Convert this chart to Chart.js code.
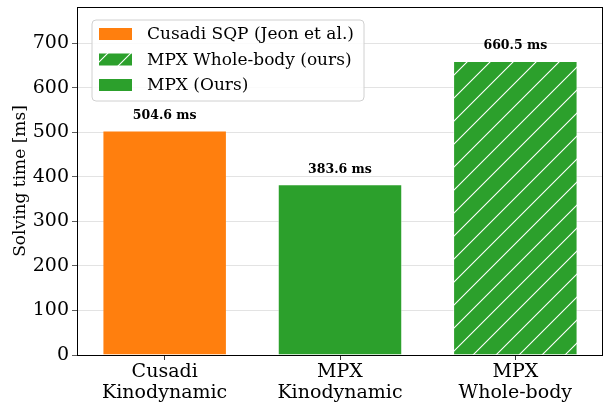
<!DOCTYPE html>
<html>
<head>
<meta charset="utf-8">
<script src="https://cdn.jsdelivr.net/npm/chart.js@4.4.1/dist/chart.umd.min.js"></script>
<style>
  html, body { margin: 0; padding: 0; background: #fff; }
  #wrap { width: 607px; height: 405px; }
</style>
</head>
<body>
<div id="wrap"><canvas id="c" width="607" height="405"></canvas></div>
<script>
// Solver timing comparison
const categories = [["Cusadi", "Kinodynamic"], ["MPX", "Kinodynamic"], ["MPX", "Whole-body"]];
const solveTimes = [504.6, 383.6, 660.5];
const valueUnit = " ms";
const yTicks = [0, 100, 200, 300, 400, 500, 600, 700];
const legendLabels = ["Cusadi SQP (Jeon et al.)", "MPX Whole-body (ours)", "MPX (Ours)"];

const ORANGE = "#ff7f0e";
const GREEN = "#2ca02c";
const SERIF = "'DejaVu Serif', serif";

// Diagonal "/" hatch on green
function makeHatch(size) {
  const cv = document.createElement("canvas");
  cv.width = size; cv.height = size;
  const g = cv.getContext("2d");
  g.fillStyle = GREEN;
  g.fillRect(0, 0, size, size);
  g.strokeStyle = "#ffffff";
  g.lineWidth = 1.1;
  g.beginPath();
  g.moveTo(-1, size + 1); g.lineTo(size + 1, -1);
  g.moveTo(-size / 2 - 1, size / 2 + 1); g.lineTo(size / 2 + 1, -size / 2 - 1);
  g.moveTo(size / 2 - 1, size * 1.5 + 1); g.lineTo(size * 1.5 + 1, size / 2 - 1);
  g.stroke();
  return g.createPattern(cv, "repeat");
}
const ctx0 = document.getElementById("c").getContext("2d");
const hatch = makeHatch(23);

const barFills = [ORANGE, GREEN, hatch];
const barEdges = ["rgba(0,0,0,0)", "rgba(255,255,255,0.5)", "rgba(255,255,255,0.6)"];
const legendFills = [ORANGE, hatch, GREEN];

const valueLabels = {
  id: "valueLabels",
  afterDatasetsDraw(chart) {
    const ctx = chart.ctx;
    const meta = chart.getDatasetMeta(0);
    ctx.save();
    ctx.font = "bold 12.5px " + SERIF;
    ctx.fillStyle = "#000";
    ctx.textAlign = "center";
    ctx.textBaseline = "middle";
    meta.data.forEach((bar, i) => {
      ctx.fillText(solveTimes[i].toFixed(1) + valueUnit, bar.x, bar.y - 15);
    });
    ctx.restore();
  }
};

const frame = {
  id: "frame",
  afterDatasetsDraw(chart) {
    const a = chart.chartArea;
    const ctx = chart.ctx;
    ctx.save();
    ctx.strokeStyle = "#000";
    ctx.lineWidth = 1;
    ctx.strokeRect(Math.round(a.left) + 0.5, Math.round(a.top) + 0.5,
                   Math.round(a.right - a.left) - 1, Math.round(a.bottom - a.top));
    ctx.restore();
  }
};

const boxLegend = {
  id: "boxLegend",
  afterDraw(chart) {
    const ctx = chart.ctx;
    const x = 92, y = 20, w = 272, h = 81, r = 4;
    ctx.save();
    ctx.beginPath();
    ctx.moveTo(x + r, y);
    ctx.arcTo(x + w, y, x + w, y + h, r);
    ctx.arcTo(x + w, y + h, x, y + h, r);
    ctx.arcTo(x, y + h, x, y, r);
    ctx.arcTo(x, y, x + w, y, r);
    ctx.closePath();
    ctx.fillStyle = "rgba(255,255,255,0.85)";
    ctx.fill();
    ctx.strokeStyle = "#d0d0d0";
    ctx.lineWidth = 1;
    ctx.stroke();
    ctx.font = "17px " + SERIF;
    ctx.textBaseline = "middle";
    ctx.textAlign = "left";
    legendLabels.forEach((lbl, i) => {
      const cy = 34 + i * 25.5;
      ctx.fillStyle = legendFills[i];
      ctx.fillRect(99, cy - 6, 33, 12);
      ctx.fillStyle = "#000";
      ctx.fillText(lbl, 147, cy + 1);
    });
    ctx.restore();
  }
};

new Chart(ctx0, {
  type: "bar",
  data: {
    labels: categories,
    datasets: [{
      data: solveTimes,
      backgroundColor: barFills,
      borderColor: barEdges,
      borderWidth: { left: 1, right: 1, top: 1, bottom: 0 },
      categoryPercentage: 0.71,
      barPercentage: 1.0
    }]
  },
  options: {
    responsive: false,
    animation: false,
    layout: { padding: { top: 7, right: 4, left: 0, bottom: 0 } },
    plugins: { legend: { display: false }, tooltip: { enabled: false } },
    scales: {
      x: {
        border: { display: false },
        grid: { display: true, offset: false, drawOnChartArea: false, drawTicks: true, tickLength: 5, tickColor: "#333", tickWidth: 1 },
        ticks: { color: "#000", font: { family: SERIF, size: 19, lineHeight: 1.1 }, padding: 2, maxRotation: 0 },
        afterFit(s) { s.height = 50; }
      },
      y: {
        min: 0,
        max: 782,
        border: { display: false },
        grid: { color: "#dcdcdc", lineWidth: 0.8, borderDash: [1, 2], tickBorderDash: [], tickColor: "#333", tickLength: 5, drawTicks: true },
        ticks: { stepSize: 100, color: "#000", font: { family: SERIF, size: 19 }, padding: 3 },
        afterBuildTicks(s) { s.ticks = yTicks.map(v => ({ value: v })); },
        title: { display: true, text: "Solving time [ms]", color: "#000", font: { family: SERIF, size: 17 }, padding: { top: 10, bottom: 0 } },
        afterFit(s) { s.width = 77; s.paddingTop = 0; s.paddingBottom = 0; }
      }
    }
  },
  plugins: [valueLabels, frame, boxLegend]
});
</script>
</body>
</html>
